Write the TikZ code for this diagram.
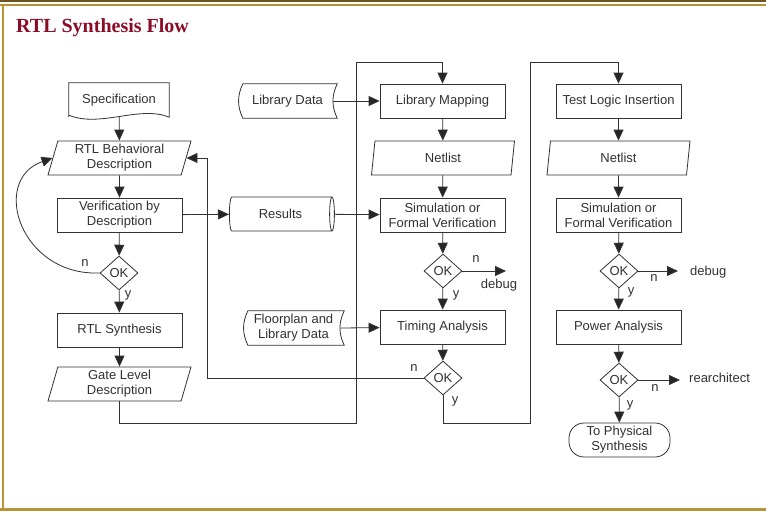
\documentclass[tikz,border=0pt]{standalone}
\usepackage{fontspec}
\setmainfont{Liberation Sans}
\newfontfamily\titlefont{Liberation Serif}
\usetikzlibrary{shapes.geometric,arrows.meta}

\definecolor{gold}{RGB}{184,146,52}
\definecolor{darkgold}{RGB}{110,84,30}
\definecolor{titlered}{RGB}{140,12,40}
\definecolor{ink}{RGB}{50,50,50}

\tikzset{
  line/.style={draw=ink, line width=0.8pt},
  arr/.style={line, -{Triangle[length=11pt,width=10pt,fill=black!85]}},
  txt/.style={text=ink, font=\fontsize{13}{15}\selectfont, inner sep=0pt},
  proc/.style={line, txt, rectangle, minimum width=125pt, minimum height=34pt, align=center},
  io/.style={line, txt, trapezium, trapezium left angle=70, trapezium right angle=110,
    trapezium stretches body, minimum width=143pt, minimum height=34pt, align=center},
  dec/.style={line, txt, diamond, minimum width=38pt, minimum height=34pt},
  term/.style={line, txt, rectangle, rounded corners=15pt, minimum width=101pt, minimum height=34pt, align=center},
  cyl/.style={line, txt, cylinder, aspect=0.5, minimum width=34pt, minimum height=105pt},
  store/.style={txt, minimum height=34pt, align=center},
}

\begin{document}
\begin{tikzpicture}[x=1pt,y=-1pt]
\useasboundingbox (0,0) rectangle (766,512);
\fill[white] (0,0) rectangle (766,512);
\draw[darkgold, line width=1.5pt] (0,0.75) -- (766,0.75);
\draw[gold, line width=2pt] (0,4.5) -- (766,4.5);
\draw[gold, line width=2pt] (3,4.5) -- (3,510);
\draw[gold, line width=2.5pt] (0,509.5) -- (766,509.5);

\node[anchor=base west, text=titlered, font=\titlefont\bfseries\fontsize{20}{24}\selectfont, inner sep=0pt] (title) at (16,32) {RTL Synthesis Flow};

% left column
\node[store, minimum width=100pt] (spec) at (119,100) {Specification};
\draw[line] (spec.south west) -- (spec.north west) -- (spec.north east) -- (spec.south east)
  .. controls (140,105) and (100,128) .. ([yshift=2pt]spec.south west);
\node[io] (rtlbeh) at (119.5,158) {RTL Behavioral\\Description};
\node[proc] (verif) at (119.5,215) {Verification by\\Description};
\node[dec] (ok1) at (119,273) {OK};
\node[proc] (synth) at (119.5,330) {RTL Synthesis};
\node[io] (gate) at (119.5,384) {Gate Level\\Description};

% middle column
\node[store, minimum width=99pt] (libdata) at (287.5,101) {Library Data};
\draw[line] ([xshift=5pt]libdata.north west) -- (libdata.north east) to[bend right=25] (libdata.south east)
  -- ([xshift=5pt]libdata.south west) to[bend left=25] ([xshift=5pt]libdata.north west);
\node[proc] (libmap) at (442.5,101) {Library Mapping};
\node[io] (net1) at (443,158) {Netlist};
\node[cyl] (results) at (280.5,214) {Results};
\node[proc] (sim1) at (442.5,215) {Simulation or\\Formal Verification};
\node[dec] (ok2) at (443,271) {OK};
\node[store, minimum width=101pt] (floor) at (293.5,328) {Floorplan and\\Library Data};
\draw[line] ([xshift=5pt]floor.north west) -- (floor.north east) to[bend right=25] (floor.south east)
  -- ([xshift=5pt]floor.south west) to[bend left=25] ([xshift=5pt]floor.north west);
\node[proc] (timing) at (442.5,327) {Timing Analysis};
\node[dec] (ok3) at (443,378) {OK};

% right column
\node[proc] (testlogic) at (618.5,101) {Test Logic Insertion};
\node[io] (net2) at (618.5,158) {Netlist};
\node[proc] (sim2) at (618.5,215) {Simulation or\\Formal Verification};
\node[dec] (ok4) at (619,271) {OK};
\node[proc] (power) at (618.5,327) {Power Analysis};
\node[dec] (ok5) at (619,380) {OK};
\node[term] (phys) at (619.5,440) {To Physical\\Synthesis};

% outcomes
\node[txt] (debug1) at (499,285) {debug};
\node[txt, anchor=west] (debug2) at (690,272) {debug};
\node[txt, anchor=west] (rearch) at (689,378) {rearchitect};
\coordinate (d1) at (506,271);
\coordinate (d2) at (678,271);
\coordinate (d3) at (680,380);

% corner points
\coordinate (c1) at (356,423);
\coordinate (c2) at (356,62);
\coordinate (c3) at (207,378);
\coordinate (c4) at (530,423);
\coordinate (c5) at (530,62);

\draw[arr] (spec) -- (rtlbeh);
\draw[arr] (rtlbeh) -- (verif);
\draw[arr] (verif) -- (ok1);
\draw[arr] (ok1) -- (synth);
\draw[arr] (synth) -- (gate);
\draw[arr] (ok1.west) .. controls (20,276) and (-10,180) .. (rtlbeh.west);
\draw[arr] (verif) -- (results);
\draw[arr] (results) -- (sim1);
\draw[arr] ([xshift=-4pt]libdata.east) -- (libmap);
\draw[arr] ([xshift=-4pt]floor.east) -- (timing);
\draw[arr] (gate.south) |- (c1) -- (c2) -| (libmap.north);

\draw[arr] (libmap) -- (net1);
\draw[arr] (net1) -- (sim1);
\draw[arr] (sim1) -- (ok2);
\draw[arr] (ok2) -- (timing);
\draw[arr] (ok2) -- (d1);
\draw[arr] (timing) -- (ok3);
\draw[arr] (ok3.west) -- (c3) |- (rtlbeh.east);
\draw[arr] (ok3.south) |- (c4) -- (c5) -| (testlogic.north);

\draw[arr] (testlogic) -- (net2);
\draw[arr] (net2) -- (sim2);
\draw[arr] (sim2) -- (ok4);
\draw[arr] (ok4) -- (power);
\draw[arr] (ok4) -- (d2);
\draw[arr] (power) -- (ok5);
\draw[arr] (ok5) -- (d3);
\draw[arr] (ok5) -- (phys);

% branch labels
\node[txt] (n1) at (85,263) {n};
\node[txt] (y1) at (128,295) {y};
\node[txt] (n2) at (476,259) {n};
\node[txt] (y2) at (456,295) {y};
\node[txt] (n3) at (414,368) {n};
\node[txt] (y3) at (455,401) {y};
\node[txt] (n4) at (654,278) {n};
\node[txt] (y4) at (631,292) {y};
\node[txt] (n5) at (655,388) {n};
\node[txt] (y5) at (630,405) {y};
\end{tikzpicture}
\end{document}
